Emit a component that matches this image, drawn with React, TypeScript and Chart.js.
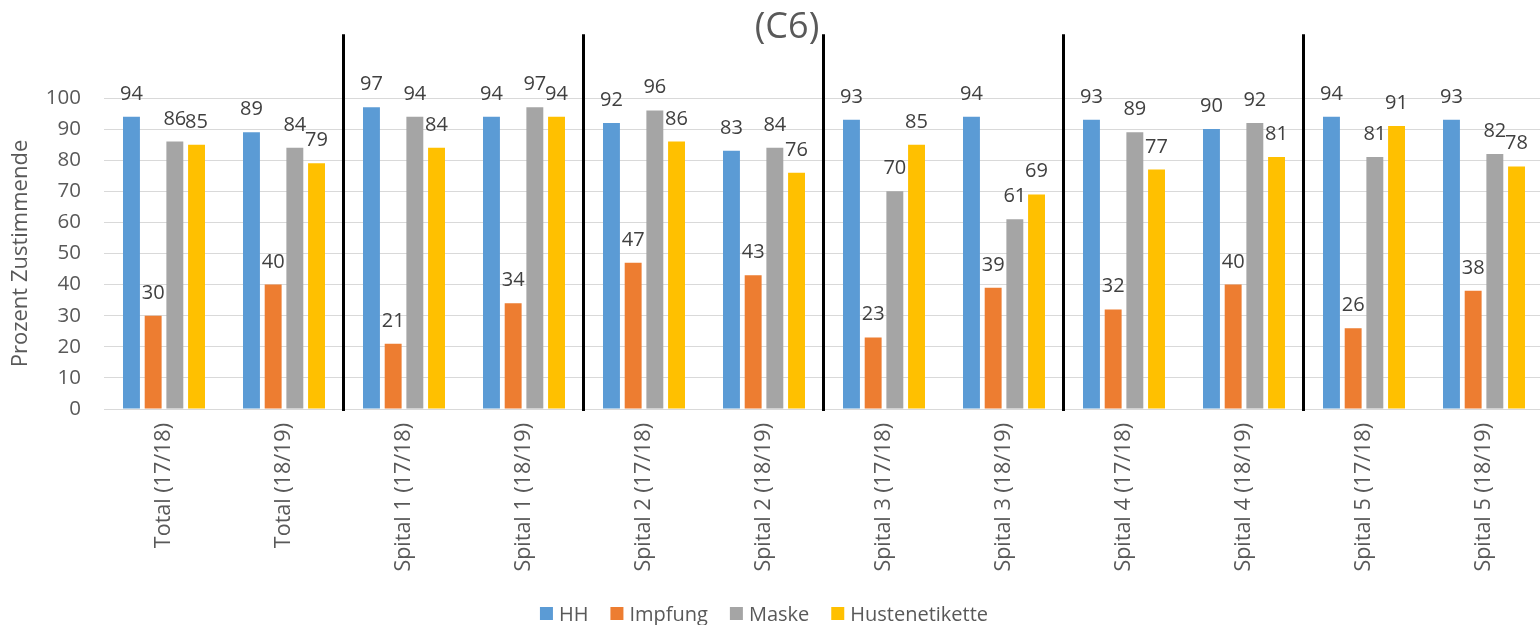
import React, { useEffect, useRef } from "react";
import { Chart, registerables } from "chart.js";

Chart.register(...registerables);

const categories = [
  "Total (17/18)",
  "Total (18/19)",
  "Spital 1 (17/18)",
  "Spital 1 (18/19)",
  "Spital 2 (17/18)",
  "Spital 2 (18/19)",
  "Spital 3 (17/18)",
  "Spital 3 (18/19)",
  "Spital 4 (17/18)",
  "Spital 4 (18/19)",
  "Spital 5 (17/18)",
  "Spital 5 (18/19)",
];

const seriesNames = ["HH", "Impfung", "Maske", "Hustenetikette"];
const hh = [94, 89, 97, 94, 92, 83, 93, 94, 93, 90, 94, 93];
const impfung = [30, 40, 21, 34, 47, 43, 23, 39, 32, 40, 26, 38];
const maske = [86, 84, 94, 97, 96, 84, 70, 61, 89, 92, 81, 82];
const husten = [85, 79, 84, 94, 86, 76, 85, 69, 77, 81, 91, 78];
const seriesColors = ["#5B9BD5", "#ED7D31", "#A5A5A5", "#FFC000"];

const titleText = "(C6)";
const yAxisTitle = "Prozent Zustimmende";
const yMin = 0;
const yMax = 100;
const yStep = 10;

const FONT = "'Open Sans', sans-serif";
const TEXT = "#595959";
const LABEL = "#404040";

const overlayPlugin = {
  id: "overlay",
  afterDatasetsDraw(chart: any) {
    const ctx: CanvasRenderingContext2D = chart.ctx;
    const xs = chart.scales.x;
    const ys = chart.scales.y;
    const area = chart.chartArea;
    ctx.save();

    // group separators
    ctx.strokeStyle = "#000000";
    ctx.lineWidth = 3;
    const sepTop = ys.getPixelForValue(120.5);
    for (let i = 1; i < categories.length - 1; i += 2) {
      const px = Math.round((xs.getPixelForValue(i) + xs.getPixelForValue(i + 1)) / 2) - 0.5;
      ctx.beginPath();
      ctx.moveTo(px, sepTop);
      ctx.lineTo(px, area.bottom + 2);
      ctx.stroke();
    }

    // data labels
    ctx.font = `20px ${FONT}`;
    ctx.fillStyle = LABEL;
    ctx.textAlign = "center";
    ctx.textBaseline = "alphabetic";
    chart.data.datasets.forEach((ds: any, di: number) => {
      const meta = chart.getDatasetMeta(di);
      meta.data.forEach((bar: any, i: number) => {
        ctx.fillText(String(ds.data[i]), bar.x, bar.y - 17);
      });
    });

    // title
    ctx.font = `36px ${FONT}`;
    ctx.fillStyle = TEXT;
    ctx.textAlign = "center";
    ctx.textBaseline = "alphabetic";
    ctx.fillText(titleText, 787, 38);

    // legend
    ctx.font = `20px ${FONT}`;
    ctx.textAlign = "left";
    ctx.textBaseline = "alphabetic";
    const box = 13;
    const gapBoxText = 6;
    const gapItems = 22;
    const widths = seriesNames.map((n) => box + gapBoxText + ctx.measureText(n).width);
    const total = widths.reduce((a, b) => a + b, 0) + gapItems * (seriesNames.length - 1);
    let lx = 764 - total / 2;
    seriesNames.forEach((n, i) => {
      ctx.fillStyle = seriesColors[i];
      ctx.fillRect(lx, 607, box, box);
      ctx.fillStyle = TEXT;
      ctx.fillText(n, lx + box + gapBoxText, 621);
      lx += widths[i] + gapItems;
    });

    ctx.restore();
  },
};

export default function App() {
  const canvasRef = useRef<HTMLCanvasElement | null>(null);

  useEffect(() => {
    const canvas = canvasRef.current;
    if (!canvas) return;
    const seriesData = [hh, impfung, maske, husten];
    const chart = new Chart(canvas, {
      type: "bar",
      data: {
        labels: categories,
        datasets: seriesNames.map((name, i) => ({
          label: name,
          data: seriesData[i],
          backgroundColor: seriesColors[i],
          borderWidth: 0,
          categoryPercentage: 0.723,
          barPercentage: 0.78,
        })),
      },
      options: {
        responsive: false,
        animation: false,
        devicePixelRatio: 1,
        layout: { padding: { top: 98, left: 0, right: 0, bottom: 0 } },
        plugins: {
          legend: { display: false },
          title: { display: false },
          tooltip: { enabled: false },
        },
        scales: {
          x: {
            grid: { display: false, drawTicks: false },
            border: { display: false },
            ticks: {
              minRotation: 90,
              maxRotation: 90,
              autoSkip: false,
              padding: 14,
              color: TEXT,
              font: { family: FONT, size: 21.5 },
            },
            afterFit: (s: any) => {
              s.height = 216;
            },
          },
          y: {
            min: yMin,
            max: yMax,
            grid: { color: "#D9D9D9", lineWidth: 1, drawTicks: false },
            border: { display: false },
            ticks: {
              stepSize: yStep,
              padding: 23,
              color: TEXT,
              font: { family: FONT, size: 20.5 },
            },
            title: {
              display: true,
              text: yAxisTitle,
              color: TEXT,
              font: { family: FONT, size: 22 },
              padding: { top: 8, bottom: 0 },
            },
            afterFit: (s: any) => {
              s.width = 104;
            },
          },
        },
      },
      plugins: [overlayPlugin],
    });
    return () => chart.destroy();
  }, []);

  return (
    <div
      style={{
        position: "fixed",
        left: 0,
        top: 0,
        width: 1540,
        height: 625,
        overflow: "hidden",
        background: "#ffffff",
      }}
    >
      <canvas ref={canvasRef} width={1544} height={625} style={{ display: "block" }} />
    </div>
  );
}
